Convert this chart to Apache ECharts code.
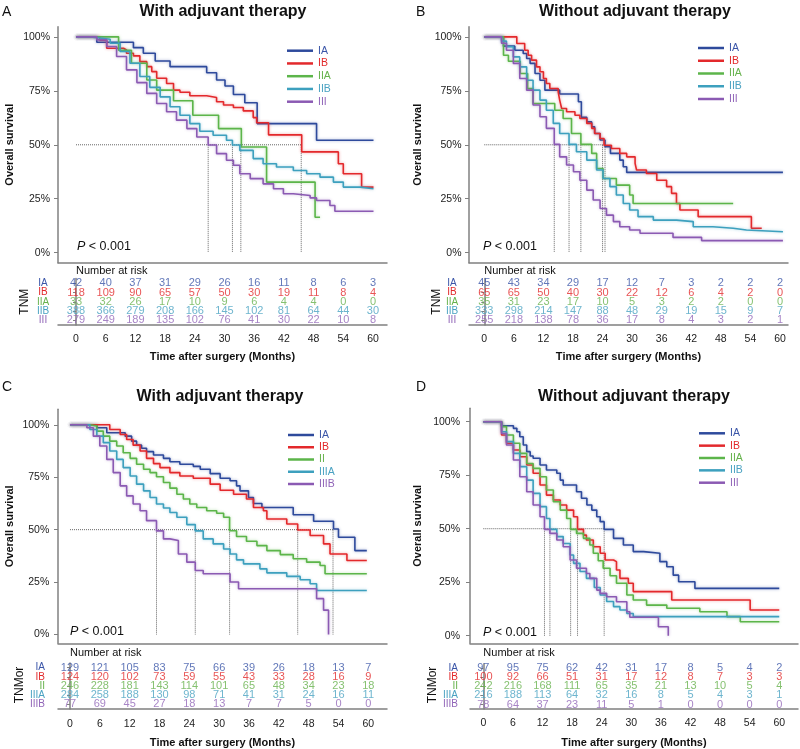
<!DOCTYPE html>
<html><head><meta charset="utf-8">
<script src="https://cdn.jsdelivr.net/npm/echarts@6/dist/echarts.min.js"></script>
<style>html,body{margin:0;padding:0;background:#fff}#c{width:800px;height:749px}</style>
</head><body><div id="c"></div>
<script>
// ---------- shared ----------
const months = [0,6,12,18,24,30,36,42,48,54,60];
const pctTicks = [0,25,50,75,100];

// ---------- Panel A: TNM, with adjuvant therapy ----------
const groupsA = ['IA','IB','IIA','IIB','III'];
const A_IA = [[0,100],[4.2,97.5],[11.6,95.0],[13.6,92.4],[16.0,88.8],[19.0,86.2],[26.4,83.4],[28.4,80.0],[30.1,77.2],[31.8,73.3],[34.1,69.5],[36.6,59.8],[48.6,52.1],[60.1,52.1]];
const A_IB = [[0,100],[4.8,98.5],[6.2,94.7],[9.6,93.9],[10.2,92.4],[11.6,91.2],[12.9,88.5],[14.3,86.2],[15.3,83.9],[16.3,80.8],[18.3,78.4],[19.7,75.3],[21.0,74.3],[23.0,72.7],[26.4,71.9],[28.4,69.9],[29.8,68.4],[31.8,67.3],[33.8,65.7],[35.8,62.6],[36.5,60.2],[38.9,54.6],[45.6,46.7],[53.0,41.2],[54.0,36.6],[57.7,30.4],[60.1,30.4]];
const A_IIA = [[0,100],[8.6,93.8],[11.2,87.8],[14.3,80.0],[16.3,75.3],[19.7,70.4],[23.6,63.7],[28.8,57.5],[33.4,49.0],[38.5,32.7],[48.3,16.4],[49.3,16.4]];
const A_IIB = [[0,100],[2.8,99.5],[4.8,98.9],[6.9,97.0],[8.9,93.2],[10.9,87.8],[12.9,81.6],[14.9,76.6],[17.0,72.2],[19.0,67.6],[21.0,63.7],[23.0,59.8],[25.0,56.3],[27.7,54.4],[30.4,52.1],[31.6,49.9],[33.1,47.4],[35.8,43.6],[37.8,41.2],[40.5,39.7],[43.9,38.1],[46.6,36.6],[49.3,35.0],[52.0,32.7],[54.0,30.4],[57.4,29.6],[60.1,29.6]];
const A_III = [[0,100],[4.2,98.6],[6.2,95.5],[8.2,90.9],[10.2,84.7],[12.3,78.8],[14.3,73.8],[16.3,69.1],[18.3,65.3],[20.3,61.4],[22.4,57.5],[24.4,53.6],[26.7,49.9],[28.4,45.9],[30.4,42.8],[31.8,40.5],[33.1,36.6],[35.2,34.3],[37.8,31.9],[39.9,29.6],[41.9,27.3],[43.9,26.5],[47.3,25.4],[48.6,24.2],[51.3,21.9],[52.3,19.2],[60.1,19.2]];
const riskA_IA  = [42,40,37,31,29,26,16,11,8,6,3];
const riskA_IB  = [118,109,90,65,57,50,30,19,11,8,4];
const riskA_IIA = [33,32,26,17,10,9,6,4,4,0,0];
const riskA_IIB = [388,366,279,208,166,145,102,81,64,44,30];
const riskA_III = [279,249,189,135,102,76,41,30,22,10,8];
const mediansA = [26.7,31.6,33.3,45.5];

// ---------- Panel B: TNM, without adjuvant therapy ----------
const groupsB = ['IA','IB','IIA','IIB','III'];
const B_IA = [[0,100],[3.9,95.7],[6.2,93.8],[7.9,92.3],[8.6,90.0],[9.3,87.7],[10.3,83.0],[11.3,79.9],[12.3,75.3],[15.3,73.5],[19.1,69.9],[19.7,62.7],[20.8,60.6],[21.8,58.3],[22.4,55.2],[23.5,52.2],[24.5,49.1],[25.6,46.0],[27.5,42.9],[28.2,39.8],[28.9,37.2],[60.6,37.2]];
const B_IB = [[0,100],[6.6,96.9],[8.2,93.8],[8.9,91.5],[9.6,89.2],[10.6,86.1],[11.3,83.8],[12.0,80.7],[12.6,78.4],[13.3,76.1],[15.0,74.5],[15.3,70.7],[15.7,66.8],[16.7,65.3],[18.4,63.7],[19.4,62.2],[20.8,59.9],[21.8,57.6],[22.4,55.2],[23.5,52.9],[24.3,49.8],[25.8,48.3],[27.5,46.0],[28.9,44.4],[30.6,41.4],[30.9,38.3],[32.9,36.7],[35.0,33.6],[37.0,30.6],[38.0,27.5],[39.0,22.8],[39.7,19.8],[43.4,16.7],[54.2,11.3],[56.3,11.3]];
const B_IIA = [[0,100],[3.9,91.5],[4.9,88.7],[7.3,83.0],[8.8,76.0],[9.9,69.1],[14.3,66.0],[16.0,62.2],[17.7,55.2],[19.6,50.2],[21.8,46.0],[22.8,39.0],[24.1,34.4],[26.8,31.3],[29.5,26.7],[30.2,22.8],[50.5,22.8]];
const B_IIB = [[0,100],[3.5,98.0],[4.5,95.4],[5.9,90.7],[7.2,86.1],[8.6,79.9],[9.9,75.3],[11.3,70.7],[12.6,66.0],[14.0,59.9],[15.3,55.2],[17.2,50.2],[18.7,46.8],[20.8,42.9],[22.8,38.3],[24.1,34.4],[25.5,30.6],[26.8,26.7],[28.2,22.8],[29.5,19.8],[31.2,16.7],[34.3,15.1],[39.0,14.4],[42.4,12.0],[46.4,11.3],[50.5,10.5],[53.2,9.7],[60.6,9.7]];
const B_III = [[0,100],[3.5,97.0],[4.5,93.8],[5.9,87.7],[7.2,80.7],[8.6,75.3],[9.9,68.4],[11.3,63.0],[12.6,57.6],[14.2,50.2],[15.3,44.4],[16.7,40.6],[18.1,37.5],[19.4,33.6],[20.8,29.0],[22.1,24.4],[23.5,20.5],[24.8,17.4],[26.2,14.4],[27.5,12.0],[29.5,10.5],[31.6,9.0],[38.3,7.1],[44.1,5.6],[60.6,5.6]];
const riskB_IA  = [45,43,34,29,17,12,7,3,2,2,2];
const riskB_IB  = [65,65,50,40,30,22,12,6,4,2,0];
const riskB_IIA = [35,31,23,17,10,5,3,2,2,0,0];
const riskB_IIB = [333,298,214,147,88,48,29,19,15,9,7];
const riskB_III = [255,218,138,78,36,17,8,4,3,2,1];
const mediansB = [14.2,17.2,19.6,24.0,24.5];

// ---------- Panel C: TNMor, with adjuvant therapy ----------
const groupsC = ['IA','IB','II','IIIA','IIIB'];
const C_IA = [[0,100],[5.4,98.6],[7.4,96.2],[11.1,94.6],[12.4,92.2],[13.4,90.3],[14.4,88.8],[15.4,87.2],[16.8,85.6],[18.8,84.0],[20.1,82.4],[22.1,81.2],[24.8,80.2],[26.2,78.8],[28.2,76.7],[30.2,74.5],[32.2,73.3],[33.5,70.9],[34.2,68.5],[35.9,65.3],[36.9,62.5],[38.6,60.6],[44.9,57.1],[49.0,54.0],[53.0,50.3],[54.0,46.4],[57.3,40.0],[59.7,40.0]];
const C_IB = [[0,100],[8.0,97.8],[10.1,95.4],[11.4,93.0],[12.7,90.3],[14.1,87.5],[15.4,84.0],[16.8,81.5],[18.1,79.6],[20.1,77.2],[22.1,75.6],[24.8,74.5],[28.2,71.7],[30.2,68.8],[32.9,66.9],[35.5,64.6],[36.9,60.6],[38.9,59.0],[39.6,55.1],[43.6,52.7],[45.8,49.8],[48.3,47.2],[51.0,43.2],[52.3,38.4],[55.7,35.3],[59.7,35.3]];
const C_II = [[0,100],[4.0,99.4],[5.4,97.0],[6.7,94.6],[8.0,92.2],[9.4,89.9],[10.7,86.7],[12.1,84.0],[13.4,81.2],[14.8,78.8],[16.1,77.2],[17.4,75.2],[18.8,72.5],[20.1,69.8],[21.5,66.9],[22.8,64.6],[24.1,62.2],[25.5,60.6],[27.5,59.0],[29.5,57.8],[30.9,55.9],[32.1,49.5],[33.5,46.7],[35.5,44.5],[37.6,42.4],[39.6,40.0],[42.3,38.1],[44.9,36.1],[47.6,34.5],[50.3,32.9],[51.3,29.0],[59.7,29.0]];
const C_IIIA = [[0,100],[4.0,97.8],[5.4,94.6],[6.7,91.5],[8.0,87.5],[9.4,83.5],[10.7,79.6],[12.1,75.6],[13.4,71.7],[14.8,68.5],[16.1,65.3],[17.4,62.2],[18.8,60.3],[20.1,58.2],[21.5,55.9],[23.5,52.4],[25.2,49.4],[26.8,45.6],[28.8,43.2],[30.9,40.8],[32.2,38.4],[33.5,35.6],[34.9,33.7],[38.2,31.3],[39.6,29.4],[43.6,27.7],[46.3,26.1],[48.3,24.2],[49.6,21.0],[59.7,21.0]];
const C_IIIB = [[0,100],[3.4,98.6],[4.7,94.6],[6.0,89.9],[7.4,83.5],[8.7,77.2],[10.1,70.9],[11.4,66.1],[12.7,62.2],[14.1,59.0],[15.4,54.3],[17.4,49.4],[18.8,45.6],[20.1,44.8],[21.8,38.4],[23.5,34.5],[25.2,30.5],[26.8,29.0],[32.2,25.0],[33.9,21.8],[49.6,17.1],[51.0,11.6],[52.0,0]];
const riskC_IA   = [129,121,105,83,75,66,39,26,18,13,7];
const riskC_IB   = [124,120,102,73,59,55,43,33,28,16,9];
const riskC_II   = [246,228,181,143,114,101,65,48,34,23,18];
const riskC_IIIA = [284,258,188,130,98,71,41,31,24,16,11];
const riskC_IIIB = [77,69,45,27,18,13,7,7,5,0,0];
const mediansC = [17.4,25.2,32.1,45.8,52.9];

// ---------- Panel D: TNMor, without adjuvant therapy ----------
const groupsD = ['IA','IB','IIA','IIB','III'];
const rowsD = ['IA','IB','II','IIIA','IIIB'];
const D_IA = [[0,100],[3.7,98.1],[6.1,96.9],[6.8,95.3],[7.4,93.0],[8.1,89.1],[8.8,86.0],[9.5,84.0],[10.1,82.9],[11.5,79.8],[12.8,77.4],[14.9,75.9],[15.6,72.7],[16.2,70.4],[18.9,67.3],[19.9,64.2],[21.0,61.1],[22.0,58.7],[23.0,55.6],[23.7,53.3],[24.5,49.7],[26.4,45.5],[28.4,42.4],[30.4,39.3],[32.5,38.5],[35.8,34.6],[37.2,32.2],[38.5,28.3],[39.6,25.2],[42.9,22.1],[60.0,22.1]];
const D_IB = [[0,100],[3.7,93.8],[4.7,89.9],[6.1,86.8],[7.4,83.6],[8.8,79.8],[10.1,75.9],[11.5,70.4],[12.8,65.7],[14.2,63.4],[15.6,61.1],[16.9,58.7],[18.3,55.6],[19.1,49.7],[20.3,47.0],[20.9,44.7],[22.3,41.6],[23.7,38.5],[24.7,35.4],[26.4,34.6],[27.0,30.7],[27.7,26.8],[29.4,24.5],[30.4,20.6],[38.2,16.7],[54.1,12.0],[60.0,12.0]];
const D_IIA = [[0,100],[3.7,97.7],[4.7,93.8],[6.1,89.9],[7.4,85.2],[8.8,80.5],[10.1,78.2],[11.5,74.3],[12.8,68.1],[14.2,62.6],[15.6,58.7],[16.9,54.8],[17.7,49.7],[18.9,47.8],[20.3,45.5],[21.6,42.4],[22.3,38.5],[23.3,35.0],[24.3,31.5],[25.7,28.0],[27.0,24.5],[29.1,19.0],[30.4,16.7],[33.1,14.3],[37.2,12.8],[43.9,11.2],[49.4,8.9],[52.1,6.5],[60.0,6.5]];
const D_IIB = [[0,100],[3.7,95.3],[4.7,90.7],[6.1,85.2],[7.4,79.0],[8.8,72.7],[10.1,66.5],[11.5,60.3],[12.8,54.8],[13.5,49.7],[14.9,46.3],[16.2,43.1],[17.6,37.7],[18.3,33.8],[19.6,30.0],[20.9,26.8],[22.5,22.5],[23.7,19.0],[25.0,16.0],[26.4,13.6],[27.7,12.0],[29.1,10.4],[30.4,8.9],[60.0,8.9]];
const D_III = [[0,100],[3.7,94.5],[4.7,89.1],[6.1,82.1],[7.4,74.3],[8.8,67.3],[10.1,61.1],[11.5,55.6],[12.4,49.7],[13.5,47.8],[14.9,44.7],[16.2,41.6],[17.6,35.4],[18.9,31.5],[20.9,29.1],[21.6,26.8],[23.0,21.3],[23.7,19.8],[25.0,18.2],[27.0,15.9],[29.1,11.2],[29.7,8.6],[35.5,4.2],[37.5,0]];
const riskD_IA   = [97,95,75,62,42,31,17,8,5,4,2];
const riskD_IB   = [100,92,66,51,31,17,12,8,7,3,3];
const riskD_II   = [242,216,168,111,65,35,21,13,10,5,4];
const riskD_IIIA = [216,188,113,64,32,16,8,5,4,3,1];
const riskD_IIIB = [78,64,37,23,11,5,1,0,0,0,0];
const mediansD = [12.4,13.5,17.7,19.1,24.5];

// ---------- styling ----------
const FONT = "'Liberation Sans', Arial, Helvetica, sans-serif";
const LINE_COL = ['#2e4a9c','#e3292c','#5cb54a','#3da0be','#8b5ab3'];
const TEXT_COL = ['#3a55a8','#e2292b','#66b24c','#4aa2c2','#9165b8'];
const AXIS_COL = '#808080';
function rgba(hex,a){const n=parseInt(hex.slice(1),16);return `rgba(${n>>16},${(n>>8)&255},${n&255},${a})`;}

const grid=[], xAxis=[], yAxis=[], series=[], legend=[], graphic=[];

function addPanel(p){
  // ---- survival plot ----
  const gi = grid.length;
  grid.push({left:p.ax, top:p.top, width:p.right-p.ax, height:p.bottom-p.top});
  xAxis.push({gridIndex:gi, type:'value', min:p.xmin, max:p.xmax,
    axisLine:{show:true,onZero:false,lineStyle:{color:AXIS_COL,width:1.5}},
    axisTick:{show:false}, axisLabel:{show:false}, splitLine:{show:false}});
  yAxis.push({gridIndex:gi, type:'value', min:p.ymin, max:p.ymax,
    axisLine:{show:true,onZero:false,lineStyle:{color:AXIS_COL,width:1.5}},
    axisTick:{show:true,customValues:pctTicks,length:4,lineStyle:{color:AXIS_COL,width:1}},
    axisLabel:{customValues:pctTicks,formatter:'{value}%',fontSize:10.5,color:'#222',margin:p.yLabMargin,fontFamily:FONT},
    splitLine:{show:false},
    name:'Overall survival', nameLocation:'middle', nameGap:p.yNameGap,
    nameTextStyle:{fontWeight:'bold',fontSize:11,color:'#111',fontFamily:FONT}});
  // median reference lines
  const mMax = Math.max(...p.medians);
  const dot = {type:'dotted',color:'#666',width:1};
  series.push({type:'line',xAxisIndex:gi,yAxisIndex:gi,data:[[0,50],[mMax,50]],symbol:'none',lineStyle:dot,silent:true,z:1});
  p.medians.forEach(m=>series.push({type:'line',xAxisIndex:gi,yAxisIndex:gi,data:[[m,50],[m,0]],symbol:'none',lineStyle:dot,silent:true,z:1}));
  // KM curves
  p.curves.forEach((d,k)=>{
    series.push({type:'line',name:p.groups[k],xAxisIndex:gi,yAxisIndex:gi,data:d,step:'end',symbol:'none',silent:true,z:3,
      lineStyle:{color:LINE_COL[k],width:1.6,shadowBlur:3,shadowColor:rgba(LINE_COL[k],0.45)},
      itemStyle:{color:LINE_COL[k]}});
  });
  legend.push({orient:'vertical',left:p.legLeft,top:p.legTop,itemWidth:26,itemHeight:2.5,itemGap:p.legGap,icon:'rect',
    itemTextGap:2,selectedMode:false,
    textStyle:{fontSize:10.5,lineHeight:12,fontFamily:FONT},
    data:p.groups.map((n,k)=>({name:n,textStyle:{color:TEXT_COL[k]}}))});

  // ---- risk table ----
  const rg = grid.length;
  const rowsBottomUp = p.rows.slice().reverse();
  const colOf = {}; p.rows.forEach((r,k)=>colOf[r]=TEXT_COL[k]);
  grid.push({left:p.ax, top:p.rtTop, width:p.right-p.ax, height:p.rtBottom-p.rtTop});
  xAxis.push({gridIndex:rg, type:'value', min:p.xmin, max:p.xmax,
    axisLine:{show:true,onZero:false,lineStyle:{color:AXIS_COL,width:1.5}},
    axisTick:{show:false}, splitLine:{show:false},
    axisLabel:{customValues:months,fontSize:10.5,color:'#222',margin:p.xLabMargin,fontFamily:FONT},
    name:'Time after surgery (Months)', nameLocation:'middle', nameGap:p.xNameGap,
    nameTextStyle:{fontWeight:'bold',fontSize:11,color:'#111',fontFamily:FONT}});
  yAxis.push({gridIndex:rg, type:'category', data:rowsBottomUp,
    axisLine:{show:true,lineStyle:{color:AXIS_COL,width:1.5}},
    axisTick:{show:true,alignWithLabel:true,interval:0,length:3,lineStyle:{color:AXIS_COL}},
    axisLabel:{interval:0,fontSize:10,margin:p.rowMargin,align:p.rowAlign,fontFamily:FONT,color:(v)=>colOf[v]},
    splitLine:{show:false},
    name:'Number at risk', nameLocation:'end', nameGap:p.nrGap,
    nameTextStyle:{align:'left',verticalAlign:'middle',fontSize:11,color:'#111',fontFamily:FONT}});
  p.risk.forEach((vals,k)=>{
    series.push({type:'scatter',xAxisIndex:rg,yAxisIndex:rg,symbolSize:0.1,silent:true,
      itemStyle:{color:'rgba(0,0,0,0)'},
      data:months.map((m,j)=>[m,p.rows[k],vals[j]]),
      label:{show:true,position:'inside',formatter:(o)=>String(o.value[2]),color:TEXT_COL[k],fontSize:11,fontFamily:FONT}});
  });

  // ---- texts ----
  graphic.push({type:'text',x:p.letter[0],y:p.letter[1],style:{text:p.letter[2],fontSize:14,fontFamily:FONT,fill:'#111',align:'left',verticalAlign:'middle'}});
  graphic.push({type:'text',x:p.title[0],y:p.title[1],style:{text:p.title[2],fontSize:16,fontWeight:'bold',fontFamily:FONT,fill:'#111',align:'center',verticalAlign:'middle'}});
  graphic.push({type:'text',x:p.pv[0],y:p.pv[1],style:{text:'{i|P} < 0.001',fontSize:12.5,fontFamily:FONT,fill:'#111',align:'left',verticalAlign:'middle',
    rich:{i:{fontStyle:'italic',fontSize:12.5,fontFamily:FONT,fill:'#111'}}}});
  graphic.push({type:'text',x:p.tnm[0],y:p.tnm[1],rotation:Math.PI/2,style:{text:p.tnm[2],fontSize:12,fontFamily:FONT,fill:'#111',align:'center',verticalAlign:'middle'}});
}

addPanel({ax:58,top:26.7,right:387,bottom:262.7,xmin:-3.64,xmax:62.83,ymin:-4.63,ymax:104.7,yLabMargin:8,yNameGap:42.5,
  rtTop:278.6,rtBottom:324.9,rowAlign:'center',rowMargin:15,xLabMargin:9,xNameGap:27,nrGap:7.6,
  legLeft:282,legTop:39.7,legGap:0.75,
  groups:groupsA,rows:groupsA,curves:[A_IA,A_IB,A_IIA,A_IIB,A_III],risk:[riskA_IA,riskA_IB,riskA_IIA,riskA_IIB,riskA_III],medians:mediansA,
  letter:[2,12,'A'],title:[223,12,'With adjuvant therapy'],pv:[77,247],tnm:[25,301.7,'TNM']});
addPanel({ax:469,top:26.7,right:788,bottom:262.7,xmin:-3.10,xmax:61.63,ymin:-4.63,ymax:104.7,yLabMargin:7.5,yNameGap:45.5,
  rtTop:278.6,rtBottom:324.9,rowAlign:'center',rowMargin:17,xLabMargin:9,xNameGap:27,nrGap:7.6,
  legLeft:693,legTop:37,legGap:0.75,
  groups:groupsB,rows:groupsB,curves:[B_IA,B_IB,B_IIA,B_IIB,B_III],risk:[riskB_IA,riskB_IB,riskB_IIA,riskB_IIB,riskB_III],medians:mediansB,
  letter:[416,12,'B'],title:[635,12,'Without adjuvant therapy'],pv:[483,247],tnm:[436.7,301.7,'TNM']});
addPanel({ax:58,top:409.3,right:387,bottom:643.3,xmin:-2.41,xmax:63.76,ymin:-4.2,ymax:107.4,yLabMargin:8.7,yNameGap:42.5,
  rtTop:663,rtBottom:709.7,rowAlign:'right',rowMargin:13,xLabMargin:10,xNameGap:28,nrGap:9.7,
  legLeft:283,legTop:424,legGap:0.25,
  groups:groupsC,rows:groupsC,curves:[C_IA,C_IB,C_II,C_IIIA,C_IIIB],risk:[riskC_IA,riskC_IB,riskC_II,riskC_IIIA,riskC_IIIB],medians:mediansC,
  letter:[2,386.7,'C'],title:[220,396.7,'With adjuvant therapy'],pv:[70,631.7],tnm:[20,685,'TNMor']});
addPanel({ax:470,top:408.3,right:798,bottom:643.3,xmin:-2.70,xmax:63.8,ymin:-3.55,ymax:106.26,yLabMargin:10,yNameGap:46.5,
  rtTop:663.7,rtBottom:709.6,rowAlign:'right',rowMargin:12,xLabMargin:9,xNameGap:28,nrGap:10.4,
  legLeft:694,legTop:422.3,legGap:0.35,
  groups:groupsD,rows:rowsD,curves:[D_IA,D_IB,D_IIA,D_IIB,D_III],risk:[riskD_IA,riskD_IB,riskD_II,riskD_IIIA,riskD_IIIB],medians:mediansD,
  letter:[416,386.7,'D'],title:[634,396.7,'Without adjuvant therapy'],pv:[483,632.7],tnm:[433,685,'TNMor']});

const chart = echarts.init(document.getElementById('c'),null,{renderer:'canvas'});
chart.setOption({animation:false,backgroundColor:'#fff',textStyle:{fontFamily:FONT},
  grid,xAxis,yAxis,series,legend,graphic});
</script></body></html>
